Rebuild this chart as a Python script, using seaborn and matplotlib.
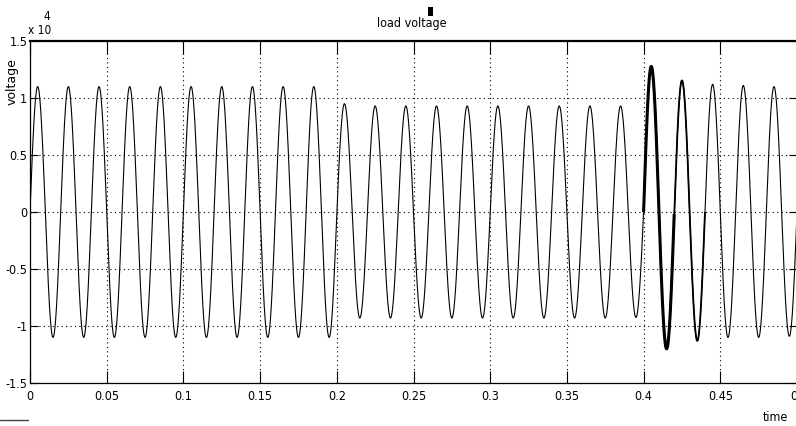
import numpy as np
import pandas as pd
import matplotlib
matplotlib.use("Agg")
import matplotlib.pyplot as plt
from matplotlib.lines import Line2D
from matplotlib.patches import Rectangle
import seaborn as sns

# ---- data (values in units of 1e4 V) ----
freq_hz = 50.0
t_end = 0.5
# amplitude of each positive half-cycle (peaks at 0.005, 0.025, ... 0.485 s)
peak_amps = [1.10, 1.10, 1.10, 1.10, 1.10, 1.10, 1.10, 1.10, 1.10, 1.10,
             0.95, 0.93, 0.93, 0.93, 0.93, 0.93, 0.93, 0.93, 0.93, 0.93,
             1.277, 1.154, 1.12, 1.11, 1.10]
# magnitude of each negative half-cycle (troughs at 0.015, 0.035, ... 0.495 s)
trough_amps = [1.10, 1.10, 1.10, 1.10, 1.10, 1.10, 1.10, 1.10, 1.10, 1.10,
               0.93, 0.93, 0.93, 0.93, 0.93, 0.93, 0.93, 0.93, 0.93, 0.925,
               1.20, 1.13, 1.10, 1.10, 1.09]
x_ticks = [0, 0.05, 0.1, 0.15, 0.2, 0.25, 0.3, 0.35, 0.4, 0.45, 0.5]
x_ticklabels = ["0", "0.05", "0.1", "0.15", "0.2", "0.25", "0.3", "0.35", "0.4", "0.45", "0"]
y_ticks = [-1.5, -1, -0.5, 0, 0.5, 1, 1.5]
y_ticklabels = ["-1.5", "-1", "-0.5", "0", "0.5", "1", "1.5"]

# build the waveform: sine at the mains frequency, each half-cycle scaled by its read amplitude
t = np.linspace(0, t_end, 10001)
half = np.minimum((t * 2 * freq_hz).astype(int), 2 * len(peak_amps) - 1)
amps = np.where(half % 2 == 0,
                np.array(peak_amps)[half // 2],
                np.array(trough_amps)[half // 2])
v = amps * np.sin(2 * np.pi * freq_hz * t)
df = pd.DataFrame({"time": t, "voltage": v})

# ---- style ----
sns.set_theme(style="white")
plt.rcParams["font.family"] = ["Liberation Sans Narrow", "DejaVu Sans"]
plt.rcParams["font.stretch"] = "condensed"

W, H = 796, 426
fig = plt.figure(figsize=(W / 100, H / 100), dpi=100)
fig.patch.set_facecolor("white")
ax = fig.add_axes([30 / W, 43 / H, 767 / W, 342 / H])
ax.set_facecolor("white")

sns.lineplot(data=df, x="time", y="voltage", ax=ax, color="black", linewidth=0.8,
             estimator=None, sort=False)
# denser (rippled) transient region drawn heavier
seg1 = df[(df.time >= 0.40) & (df.time <= 0.44)]
sns.lineplot(data=seg1, x="time", y="voltage", ax=ax, color="black", linewidth=1.3,
             estimator=None, sort=False, solid_capstyle="butt")
seg2 = df[(df.time >= 0.40) & (df.time <= 0.42)]
sns.lineplot(data=seg2, x="time", y="voltage", ax=ax, color="black", linewidth=2.2,
             estimator=None, sort=False, solid_capstyle="butt")

ax.set_xlim(0, 0.5)
ax.set_ylim(-1.5, 1.5)
ax.set_xticks(x_ticks)
ax.set_xticklabels(x_ticklabels)
ax.set_yticks(y_ticks)
ax.set_yticklabels(y_ticklabels)
ax.get_xticklabels()[-1].set_horizontalalignment("right")
ax.set_xlabel("")
ax.set_ylabel("")

ax.grid(True, color="black", linestyle=(0, (1, 3)), linewidth=0.8)
ax.tick_params(axis="x", direction="in", length=9, width=0.8, top=True, bottom=True,
               labelsize=9, pad=5, colors="black")
ax.tick_params(axis="y", direction="in", length=6, width=0.8, left=True, right=True,
               labelsize=9, pad=2, colors="black")
for side, sp in ax.spines.items():
    sp.set_visible(True)
    sp.set_color("black")
    sp.set_linewidth(0.9)
ax.spines["top"].set_linewidth(1.6)

# texts
fig.text(412 / W, 1 - 27 / H, "load voltage", ha="center", va="baseline", fontsize=9, color="black")
fig.patches.append(Rectangle((428 / W, 1 - 16 / H), 5 / W, 9 / H, transform=fig.transFigure,
                             facecolor="black", edgecolor="none"))
fig.text(28 / W, 1 - 34 / H, "x 10", ha="left", va="baseline", fontsize=8.5, color="black")
fig.text(43 / W, 1 - 20 / H, "4", ha="left", va="baseline", fontsize=8.5, color="black")
fig.text(12 / W, 1 - 82 / H, "voltage", ha="center", va="center", rotation=90,
         fontsize=9, color="black", family=["DejaVu Sans"], fontstretch="normal")
fig.text(775 / W, 1 - 421 / H, "time", ha="center", va="baseline", fontsize=9, color="black")
fig.lines.append(Line2D([0, 28 / W], [1 - 420 / H, 1 - 420 / H], transform=fig.transFigure,
                        color="#444444", linewidth=1))

fig.savefig("out.png", dpi=100, facecolor="white")
